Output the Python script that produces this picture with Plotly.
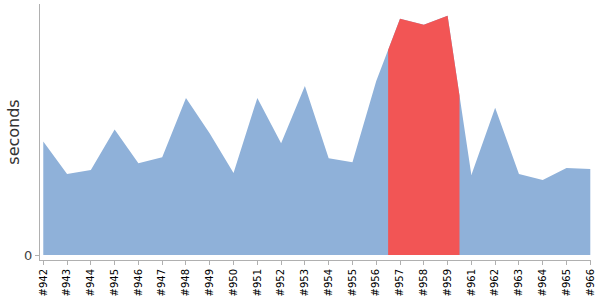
import numpy as np
import plotly.graph_objects as go

builds = ["#942", "#943", "#944", "#945", "#946", "#947", "#948", "#949", "#950",
          "#951", "#952", "#953", "#954", "#955", "#956", "#957", "#958", "#959",
          "#961", "#962", "#963", "#964", "#965", "#966"]
seconds = [115, 82, 86, 127, 93, 99, 159, 123, 83, 159, 113, 171, 98, 94, 176,
           239, 233, 242, 81, 149, 82, 76, 88, 87]
highlight_builds = ["#957", "#958", "#959"]

BLUE = "#8fb1d9"
RED = "#f25555"
AXIS = "#b0b0b0"

x = np.arange(len(builds))
y = np.array(seconds, dtype=float)

# highlighted span: half a category either side of the highlighted builds
hi_idx = [builds.index(b) for b in highlight_builds]
lo, hi = min(hi_idx) - 0.5, max(hi_idx) + 0.5
hx = np.concatenate([[lo], x[(x > lo) & (x < hi)], [hi]])
hy = np.interp(hx, x, y)

fig = go.Figure()
fig.add_trace(go.Scatter(x=x, y=y, mode="lines", fill="tozeroy",
                         line=dict(width=0, color=BLUE), fillcolor=BLUE,
                         hoverinfo="skip", showlegend=False))
fig.add_trace(go.Scatter(x=hx, y=hy, mode="lines", fill="tozeroy",
                         line=dict(width=0, color=RED), fillcolor=RED,
                         hoverinfo="skip", showlegend=False))

fig.update_layout(
    width=600, height=300,
    margin=dict(l=40, r=8, t=4, b=37),
    paper_bgcolor="white", plot_bgcolor="white",
    font=dict(family="DejaVu Sans", color="#333333"),
)
fig.update_xaxes(
    range=[-0.138, 23.03],
    tickmode="array", tickvals=list(x), ticktext=builds,
    tickangle=-90, tickfont=dict(size=10, color="#000000"),
    ticks="outside", ticklen=4, tickcolor=AXIS,
    showline=True, linecolor=AXIS, linewidth=1,
    showgrid=False, zeroline=False, fixedrange=True,
)
fig.update_yaxes(
    range=[-5, 254],
    tickmode="array", tickvals=[0], ticktext=["0"],
    tickfont=dict(size=13, color="#444444"),
    ticks="outside", ticklen=4, tickcolor=AXIS,
    showline=True, linecolor=AXIS, linewidth=1,
    showgrid=False, zeroline=False, fixedrange=True,
    title=dict(text="seconds", font=dict(size=16, color="#333333"), standoff=0),
)

fig.write_html("out.html")
